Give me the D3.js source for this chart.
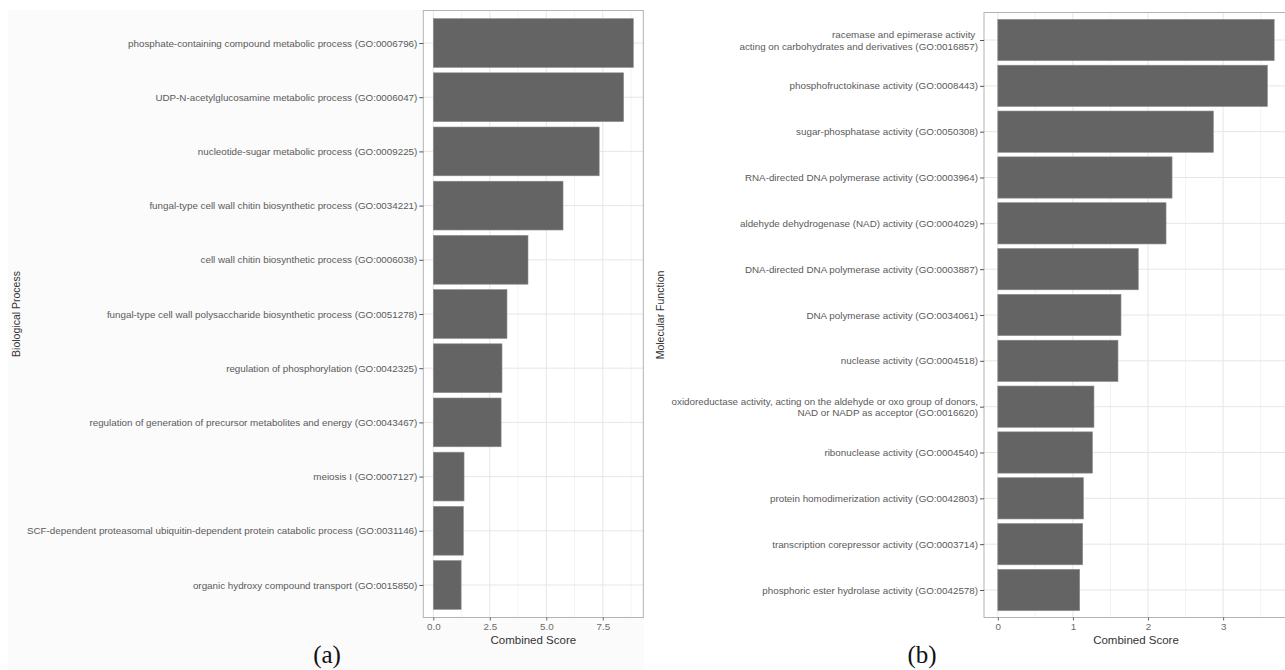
<!DOCTYPE html>
<html>
<head>
<meta charset="utf-8">
<script src="https://cdn.jsdelivr.net/npm/d3@7"></script>
<style>
  html, body { margin: 0; padding: 0; background: #ffffff; }
  svg { display: block; }
</style>
</head>
<body>
<svg id="chart" width="1285" height="670"></svg>
<script>
// GO enrichment: Biological Process terms
const bpTerms = [
  "phosphate-containing compound metabolic process (GO:0006796)",
  "UDP-N-acetylglucosamine metabolic process (GO:0006047)",
  "nucleotide-sugar metabolic process (GO:0009225)",
  "fungal-type cell wall chitin biosynthetic process (GO:0034221)",
  "cell wall chitin biosynthetic process (GO:0006038)",
  "fungal-type cell wall polysaccharide biosynthetic process (GO:0051278)",
  "regulation of phosphorylation (GO:0042325)",
  "regulation of generation of precursor metabolites and energy (GO:0043467)",
  "meiosis I (GO:0007127)",
  "SCF-dependent proteasomal ubiquitin-dependent protein catabolic process (GO:0031146)",
  "organic hydroxy compound transport (GO:0015850)"
];
const bpScores = [8.85, 8.42, 7.34, 5.74, 4.19, 3.26, 3.04, 3.0, 1.36, 1.33, 1.23];
const bpTicks = [0, 2.5, 5.0, 7.5];

// GO enrichment: Molecular Function terms ("\n" marks a wrapped label)
const mfTerms = [
  "racemase and epimerase activity \nacting on carbohydrates and derivatives (GO:0016857)",
  "phosphofructokinase activity (GO:0008443)",
  "sugar-phosphatase activity (GO:0050308)",
  "RNA-directed DNA polymerase activity (GO:0003964)",
  "aldehyde dehydrogenase (NAD) activity (GO:0004029)",
  "DNA-directed DNA polymerase activity (GO:0003887)",
  "DNA polymerase activity (GO:0034061)",
  "nuclease activity (GO:0004518)",
  "oxidoreductase activity, acting on the aldehyde or oxo group of donors,\nNAD or NADP as acceptor (GO:0016620)",
  "ribonuclease activity (GO:0004540)",
  "protein homodimerization activity (GO:0042803)",
  "transcription corepressor activity (GO:0003714)",
  "phosphoric ester hydrolase activity (GO:0042578)"
];
const mfScores = [3.68, 3.59, 2.87, 2.32, 2.24, 1.87, 1.64, 1.60, 1.28, 1.26, 1.14, 1.13, 1.09];
const mfTicks = [0, 1, 2, 3];

const svg = d3.select("#chart");
const FONT = "'Liberation Sans', Arial, sans-serif";

// faint backdrop behind panel (a)
svg.append("rect")
  .attr("x", 8).attr("y", 10).attr("width", 636).attr("height", 660)
  .attr("fill", "#fbfbfb");

function drawPanel(cfg) {
  const { terms, scores, ticks, left, right, top, bottom, yTitle, yTitleX, tag, tagX, tickFmt } = cfg;
  const max = d3.max(scores);
  const x = d3.scaleLinear()
    .domain([-0.05 * max, 1.05 * max])
    .range([left, right]);
  const n = terms.length;
  const y = d3.scaleLinear()
    .domain([0.4, n + 0.6])
    .range([top, bottom]);

  const g = svg.append("g");

  // panel background
  g.append("rect")
    .attr("x", left).attr("y", top)
    .attr("width", right - left).attr("height", bottom - top)
    .attr("fill", "#ffffff");

  // minor vertical grid
  const step = ticks[1] - ticks[0];
  const minor = ticks.map(t => t + step / 2);
  g.selectAll(".vminor").data(minor.filter(v => x(v) < right)).enter().append("line")
    .attr("x1", d => x(d)).attr("x2", d => x(d))
    .attr("y1", top).attr("y2", bottom)
    .attr("stroke", "#f0f0f0").attr("stroke-width", 0.8);
  // major vertical grid
  g.selectAll(".vmajor").data(ticks).enter().append("line")
    .attr("x1", d => x(d)).attr("x2", d => x(d))
    .attr("y1", top).attr("y2", bottom)
    .attr("stroke", "#e6e6e6").attr("stroke-width", 1);
  // horizontal grid at each category
  g.selectAll(".hmajor").data(d3.range(1, n + 1)).enter().append("line")
    .attr("x1", left).attr("x2", right)
    .attr("y1", d => y(d)).attr("y2", d => y(d))
    .attr("stroke", "#e6e6e6").attr("stroke-width", 1);

  // bars
  g.selectAll(".bar").data(scores).enter().append("rect")
    .attr("x", x(0))
    .attr("y", (d, i) => y(i + 1 - 0.45))
    .attr("width", d => x(d) - x(0))
    .attr("height", y(1.45) - y(0.55))
    .attr("fill", "#646464")
    .attr("stroke", "#8a8a8a").attr("stroke-width", 0.6);

  // panel border
  g.append("rect")
    .attr("x", left).attr("y", top)
    .attr("width", right - left).attr("height", bottom - top)
    .attr("fill", "none").attr("stroke", "#b3b3b3").attr("stroke-width", 1);

  // x axis
  const xAxis = d3.axisBottom(x).tickValues(ticks).tickSize(3).tickPadding(3)
    .tickFormat(tickFmt);
  const gx = g.append("g").attr("transform", `translate(0,${bottom})`).call(xAxis);
  gx.select(".domain").remove();
  gx.selectAll(".tick line").attr("stroke", "#666");
  gx.selectAll("text").attr("fill", "#6a6a6a").attr("font-size", 9.8).attr("font-family", FONT);

  // y axis with category labels
  const yAxis = d3.axisLeft(y).tickValues(d3.range(1, n + 1)).tickSize(4).tickPadding(2)
    .tickFormat(d => terms[d - 1]);
  const gy = g.append("g").attr("transform", `translate(${left},0)`).call(yAxis);
  gy.select(".domain").remove();
  gy.selectAll(".tick line").attr("stroke", "#555");
  gy.selectAll(".tick text")
    .attr("fill", "#5a5a5a").attr("font-size", 9.8).attr("font-family", FONT)
    .each(function (d) {
      const lines = terms[d - 1].split("\n");
      if (lines.length > 1) {
        const t = d3.select(this);
        t.text(null);
        const lh = 11.5;
        lines.forEach((ln, k) => {
          t.append("tspan")
            .attr("x", t.attr("x"))
            .attr("dy", k === 0 ? `${-(lines.length - 1) * lh / 2 + 3.3}px` : `${lh}px`)
            .text(ln);
        });
        t.attr("dy", null);
      }
    });

  // axis titles
  g.append("text")
    .attr("x", (left + right) / 2).attr("y", bottom + 26)
    .attr("text-anchor", "middle")
    .attr("font-family", FONT).attr("font-size", 11.5).attr("fill", "#333")
    .text("Combined Score");
  g.append("text")
    .attr("transform", `translate(${yTitleX},${(top + bottom) / 2}) rotate(-90)`)
    .attr("text-anchor", "middle")
    .attr("font-family", FONT).attr("font-size", 10.5).attr("fill", "#333")
    .text(yTitle);

  // panel tag
  svg.append("text")
    .attr("x", tagX).attr("y", 663)
    .attr("text-anchor", "middle")
    .attr("font-family", "'Liberation Serif', 'Times New Roman', serif")
    .attr("font-size", 25).attr("fill", "#111")
    .text(tag);
}

drawPanel({
  terms: bpTerms, scores: bpScores, ticks: bpTicks,
  left: 423.3, right: 643.3, top: 10.5, bottom: 617.5,
  yTitle: "Biological Process", yTitleX: 20, tag: "(a)", tagX: 327,
  tickFmt: d3.format(".1f")
});

drawPanel({
  terms: mfTerms, scores: mfScores, ticks: mfTicks,
  left: 984, right: 1288, top: 12.5, bottom: 617.5,
  yTitle: "Molecular Function", yTitleX: 664, tag: "(b)", tagX: 922,
  tickFmt: d3.format("d")
});
</script>
</body>
</html>
